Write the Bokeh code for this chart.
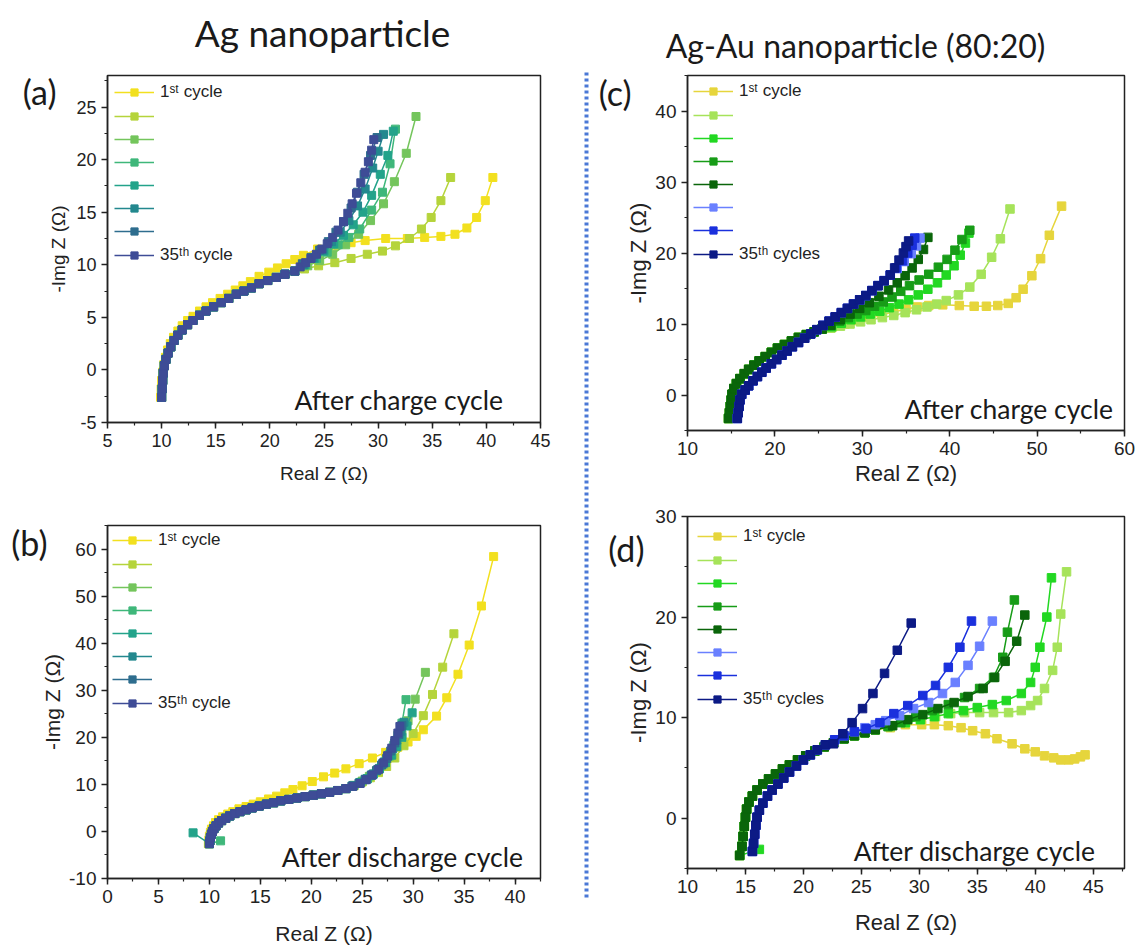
from bokeh.plotting import figure
from bokeh.layouts import row, column
from bokeh.models import (Range1d, SingleIntervalTicker, Legend, LegendItem, Label,
                          LinearAxis, FixedTicker, PrintfTickFormatter)
from bokeh.embed import file_html
from bokeh.resources import INLINE
from bokeh.core.properties import value

# ---------------- DATA ----------------
# Panel (a): Ag nanoparticle, after charge cycle
a_arc_x = [10.0, 10.05, 10.1, 10.15, 10.25, 10.4, 10.6, 10.85, 11.15, 11.5, 11.9, 12.4, 12.9,
           13.5, 14.1, 14.8, 15.5, 16.2, 16.9, 17.6, 18.3, 19.0, 19.8, 20.6, 21.4, 22.3]
a_arc_y = [-2.6, -1.8, -1.0, -0.3, 0.4, 1.0, 1.6, 2.2, 2.8, 3.3, 3.8, 4.3, 4.7,
           5.2, 5.6, 6.0, 6.4, 6.8, 7.2, 7.5, 7.8, 8.2, 8.5, 8.8, 9.1, 9.4]
a1_x = [9.9, 9.95, 10.0, 10.1, 10.2, 10.35, 10.55, 10.8, 11.1, 11.5, 11.9, 12.4, 12.9, 13.5,
        14.1, 14.7, 15.4, 16.1, 16.8, 17.5, 18.2, 19.0, 19.9, 20.7, 21.5, 22.3, 23.1, 24.4,
        26.0, 27.5, 28.8, 30.7, 32.7, 34.3, 35.8, 37.1, 38.2, 39.1, 39.9, 40.6]
a1_y = [-2.6, -1.8, -1.0, -0.2, 0.5, 1.2, 1.9, 2.5, 3.1, 3.7, 4.2, 4.7, 5.1, 5.6,
        6.0, 6.4, 6.8, 7.2, 7.6, 8.0, 8.4, 8.9, 9.3, 9.7, 10.1, 10.5, 10.9, 11.5,
        11.8, 12.1, 12.3, 12.5, 12.5, 12.6, 12.7, 12.9, 13.5, 14.5, 16.1, 18.3]
a2_tx = [23.2, 24.5, 26.0, 27.5, 29.0, 30.4, 31.6, 32.9, 34.0, 34.9, 35.8, 36.7]
a2_ty = [9.6, 9.9, 10.2, 10.6, 11.0, 11.3, 11.8, 12.5, 13.4, 14.5, 16.1, 18.3]
a3_tx = [23.5, 24.6, 25.8, 27.0, 28.2, 29.3, 30.5, 31.5, 32.6, 33.5]
a3_ty = [9.9, 10.4, 11.0, 11.9, 12.9, 14.2, 15.8, 17.9, 20.6, 24.1]
a4_tx = [23.3, 24.3, 25.3, 26.3, 27.3, 28.3, 29.4, 30.4, 31.1, 31.6]
a4_ty = [10.0, 10.6, 11.2, 11.9, 12.6, 13.4, 15.2, 16.9, 19.6, 22.9]
a5_tx = [23.2, 24.1, 25.0, 25.9, 26.8, 27.7, 28.6, 29.4, 30.2, 30.9, 31.4]
a5_ty = [10.0, 10.6, 11.3, 12.0, 12.8, 13.8, 15.0, 16.6, 18.6, 20.4, 22.7]
a6_tx = [23.1, 24.0, 24.9, 25.7, 26.5, 27.3, 28.1, 28.8, 29.5, 30.0, 30.5]
a6_ty = [10.0, 10.7, 11.4, 12.2, 13.1, 14.2, 15.6, 17.2, 19.2, 20.8, 22.4]
a7_tx = [23.0, 23.8, 24.6, 25.4, 26.1, 26.8, 27.5, 28.1, 28.7, 29.3, 29.9]
a7_ty = [10.1, 10.7, 11.4, 12.2, 13.1, 14.1, 15.4, 16.9, 18.6, 20.4, 22.1]
a8_tx = [22.8, 23.3, 23.8, 24.3, 24.8, 25.3, 25.8, 26.3, 26.8, 27.2, 27.6, 28.0, 28.4, 28.8,
         29.1, 29.4, 29.6]
a8_ty = [9.8, 10.2, 10.6, 11.0, 11.5, 12.0, 12.6, 13.3, 14.1, 14.9, 15.8, 16.8, 17.8, 18.8,
         19.8, 20.9, 21.9]

# Panel (b): Ag nanoparticle, after discharge cycle
b_arc_x = [10.0, 10.05, 10.1, 10.2, 10.3, 10.45, 10.65, 10.9, 11.2, 11.6, 12.0, 12.5, 13.0, 13.6,
           14.2, 14.9, 15.6, 16.3, 17.0, 17.8, 18.6, 19.4, 20.2, 21.0, 21.8, 22.6, 23.4]
b_arc_y = [-2.6, -2.0, -1.3, -0.6, 0.0, 0.6, 1.2, 1.8, 2.3, 2.8, 3.3, 3.8, 4.2, 4.6,
           5.0, 5.4, 5.8, 6.1, 6.5, 6.8, 7.1, 7.4, 7.7, 8.0, 8.3, 8.7, 9.1]
b1_x = [9.9, 9.95, 10.0, 10.1, 10.2, 10.4, 10.6, 10.9, 11.3, 11.8, 12.3, 12.9, 13.6, 14.3, 15.0,
        15.8, 16.6, 17.4, 18.2, 19.1, 20.1, 21.2, 22.3, 23.4, 24.7, 26.0, 27.3, 28.5, 29.5, 30.3,
        31.0, 32.3, 33.3, 34.4, 35.5, 36.7, 37.9]
b1_y = [-2.6, -1.8, -1.0, -0.2, 0.5, 1.2, 1.9, 2.5, 3.1, 3.7, 4.2, 4.8, 5.3, 5.8, 6.3,
        6.9, 7.5, 8.2, 8.9, 9.7, 10.6, 11.6, 12.4, 13.3, 14.4, 15.6, 16.8, 17.9, 19.0, 20.2,
        21.6, 24.5, 28.4, 33.4, 39.6, 47.9, 58.4]
b2_tx = [24.2, 25.0, 25.8, 26.6, 27.4, 28.2, 29.1, 30.0, 31.0, 31.9, 32.9, 34.0]
b2_ty = [9.7, 10.5, 11.4, 12.5, 13.8, 15.6, 18.2, 20.8, 24.6, 29.1, 34.9, 42.0]
b3_tx = [24.2, 25.0, 25.7, 26.4, 27.1, 27.7, 28.3, 28.9, 29.5, 30.2, 31.2]
b3_ty = [9.8, 10.7, 11.7, 12.9, 14.3, 16.0, 18.0, 20.5, 23.5, 28.1, 33.8]
b4_hx = [11.1]
b4_hy = [-2.0]
b4_tx = [24.1, 24.8, 25.5, 26.1, 26.7, 27.2, 27.7, 28.1, 28.5, 28.9, 29.3]
b4_ty = [9.7, 10.4, 11.2, 12.2, 13.4, 14.8, 16.4, 18.3, 20.4, 23.0, 28.0]
b5_hx = [8.4]
b5_hy = [-0.3]
b5_tx = [24.1, 24.8, 25.5, 26.1, 26.7, 27.3, 27.9, 28.4, 28.9, 29.4, 29.9]
b5_ty = [9.7, 10.4, 11.2, 12.2, 13.3, 14.6, 16.2, 18.0, 20.0, 22.4, 25.2]
b6_tx = [24.0, 24.7, 25.3, 25.9, 26.5, 27.0, 27.5, 28.0, 28.4, 28.8, 29.1]
b6_ty = [9.6, 10.3, 11.1, 12.0, 13.1, 14.4, 15.9, 17.6, 19.4, 21.3, 23.2]
b7_tx = [24.0, 24.7, 25.3, 25.9, 26.4, 26.9, 27.4, 27.8, 28.2, 28.6, 28.9]
b7_ty = [9.6, 10.2, 11.0, 11.9, 12.9, 14.1, 15.5, 17.1, 18.8, 20.6, 22.5]
b8_tx = [24.1, 24.8, 25.4, 26.0, 26.6, 27.1, 27.5, 27.9, 28.2, 28.5, 28.7]
b8_ty = [9.6, 10.2, 11.0, 12.0, 13.2, 14.6, 16.1, 17.7, 19.3, 20.9, 22.3]

# Panel (c): Ag-Au nanoparticle, after charge cycle
c_garc_x = [14.7, 14.8, 14.9, 15.0, 15.1, 15.3, 15.6, 16.0, 16.5, 17.0, 17.6, 18.2, 18.9, 19.6,
            20.3, 21.1, 21.9, 22.7, 23.6, 24.5, 25.4]
c_garc_y = [-3.3, -2.5, -1.6, -0.7, 0.1, 0.9, 1.6, 2.3, 3.0, 3.6, 4.2, 4.8, 5.4, 6.0,
            6.6, 7.1, 7.6, 8.1, 8.5, 8.9, 9.3]
c_barc_x = [15.7, 15.8, 15.9, 16.0, 16.2, 16.6, 17.0, 17.5, 18.0, 18.5, 19.0, 19.6, 20.2, 20.8,
            21.4, 22.0, 22.7, 23.4, 24.1, 24.8, 25.5, 26.2, 26.9, 27.6, 28.3, 29.0, 29.7, 30.4,
            31.1, 31.8, 32.5, 33.2]
c_barc_y = [-3.3, -2.5, -1.6, -0.7, 0.1, 0.7, 1.3, 2.0, 2.6, 3.2, 3.8, 4.4, 5.0, 5.6,
            6.2, 6.8, 7.4, 8.0, 8.6, 9.2, 9.8, 10.4, 11.0, 11.6, 12.2, 12.8, 13.4, 14.0,
            14.7, 15.4, 16.1, 16.9]
c1_tx = [26.6, 28.0, 29.4, 30.8, 32.2, 33.6, 35.0, 36.3, 37.6, 39.2, 41.1, 42.8, 44.2, 45.5,
         46.7, 47.6, 48.4, 49.4, 50.4, 51.4, 52.8]
c1_ty = [9.6, 10.0, 10.5, 10.9, 11.3, 11.7, 12.1, 12.4, 12.6, 12.7, 12.6, 12.5, 12.5, 12.6,
         12.9, 13.7, 14.9, 16.8, 19.2, 22.5, 26.6]
c2_tx = [26.4, 27.5, 28.6, 29.8, 31.0, 32.3, 33.6, 34.9, 36.2, 37.4, 38.5, 39.6, 41.0, 42.3,
         43.6, 44.8, 45.8, 46.9]
c2_ty = [9.4, 9.7, 10.0, 10.3, 10.6, 10.9, 11.2, 11.6, 12.0, 12.4, 12.8, 13.3, 14.1, 15.2,
         17.0, 19.4, 22.0, 26.2]
c3_tx = [26.5, 27.6, 28.7, 29.8, 30.9, 32.0, 33.1, 34.2, 35.3, 36.4, 37.5, 38.6, 39.6, 40.5,
         41.2, 41.8, 42.2]
c3_ty = [9.6, 10.1, 10.6, 11.0, 11.4, 11.8, 12.3, 12.8, 13.4, 14.1, 14.9, 15.8, 16.9, 18.2,
         19.7, 21.4, 22.8]
c4_tx = [26.4, 27.4, 28.4, 29.4, 30.4, 31.4, 32.4, 33.4, 34.4, 35.4, 36.5, 37.6, 38.7, 39.7,
         40.6, 41.4, 42.3]
c4_ty = [9.8, 10.4, 10.9, 11.4, 11.9, 12.5, 13.1, 13.8, 14.6, 15.4, 16.2, 17.0, 18.0, 19.1,
         20.4, 21.9, 23.2]
c5_tx = [26.4, 27.5, 28.6, 29.7, 30.8, 31.9, 33.0, 34.0, 34.9, 35.7, 36.4, 37.0, 37.5]
c5_ty = [9.8, 10.6, 11.4, 12.2, 13.0, 13.9, 14.8, 15.8, 16.8, 17.9, 19.1, 20.5, 22.2]
c6_tx = [34.0, 34.8, 35.6, 36.2, 36.6]
c6_ty = [17.8, 18.8, 19.9, 21.0, 22.1]
c7_tx = [33.9, 34.6, 35.2, 35.7, 36.0]
c7_ty = [17.9, 18.9, 20.0, 21.1, 22.1]
c8_tx = [33.7, 34.2, 34.7, 35.0, 35.3]
c8_ty = [17.9, 19.0, 20.0, 20.9, 21.7]

# Panel (d): Ag-Au nanoparticle, after discharge cycle
d_garc_x = [14.5, 14.7, 14.8, 14.9, 15.0, 15.1, 15.3, 15.6, 16.0, 16.5, 17.0, 17.6, 18.2, 18.8,
            19.5, 20.2, 21.0, 21.8, 22.6, 23.5, 24.4, 25.3, 26.2]
d_garc_y = [-3.7, -2.8, -1.8, -0.8, 0.1, 0.9, 1.6, 2.2, 2.8, 3.4, 3.9, 4.4, 4.9, 5.3,
            5.8, 6.2, 6.7, 7.1, 7.5, 7.9, 8.2, 8.5, 8.8]
d_barc_x = [15.6, 15.7, 15.8, 15.9, 16.0, 16.2, 16.5, 16.9, 17.3, 17.8, 18.3, 18.8, 19.4, 20.0,
            20.6, 21.2, 21.9]
d_barc_y = [-3.3, -2.5, -1.6, -0.7, 0.1, 0.8, 1.5, 2.2, 2.8, 3.4, 4.0, 4.6, 5.2, 5.8,
            6.3, 6.8, 7.3]
d1_tx = [27.5, 28.8, 30.2, 31.3, 32.5, 33.6, 34.6, 35.7, 36.7, 38.0, 39.1, 40.0, 40.8, 41.6,
         42.2, 42.9, 43.4, 43.9, 44.3]
d1_ty = [9.0, 9.3, 9.3, 9.3, 9.2, 9.0, 8.7, 8.4, 7.9, 7.4, 6.9, 6.6, 6.2, 6.0,
         5.8, 5.8, 5.9, 6.1, 6.3]
d2_tx = [27.5, 28.8, 30.1, 31.4, 32.7, 33.9, 35.2, 36.4, 37.7, 38.8, 39.6, 40.2, 40.8, 41.5,
         41.9, 42.2, 42.7]
d2_ty = [9.1, 9.5, 9.8, 10.1, 10.4, 10.5, 10.5, 10.5, 10.5, 10.7, 11.2, 11.7, 12.9, 14.7,
         17.0, 20.3, 24.5]
d3_hx = [16.2]
d3_hy = [-3.1]
d3_tx = [27.5, 28.8, 30.1, 31.3, 32.5, 33.8, 35.0, 36.3, 37.5, 38.8, 39.6, 40.0, 40.4, 41.0, 41.4]
d3_ty = [9.2, 9.5, 9.8, 10.1, 10.4, 10.7, 11.0, 11.3, 11.7, 12.4, 13.5, 15.0, 17.0, 20.0, 23.9]
d4_tx = [27.3, 28.4, 29.7, 31.1, 32.5, 33.9, 35.2, 36.4, 37.2, 37.6, 38.2]
d4_ty = [9.1, 9.5, 10.1, 10.7, 11.3, 12.0, 12.9, 14.0, 16.0, 18.5, 21.7]
d5_tx = [27.7, 29.0, 30.3, 31.6, 33.0, 34.2, 35.5, 36.5, 37.4, 38.4, 39.1]
d5_ty = [9.2, 9.8, 10.3, 10.9, 11.5, 12.1, 12.9, 14.0, 15.6, 17.6, 20.2]
d6_tx = [22.7, 23.5, 24.4, 25.3, 26.2, 27.1, 28.3, 29.5, 30.8, 32.0, 33.1, 34.2, 35.2, 36.3]
d6_ty = [7.8, 8.2, 8.6, 9.0, 9.3, 9.7, 10.2, 10.9, 11.5, 12.4, 13.5, 15.2, 17.1, 19.6]
d7_tx = [22.7, 23.5, 24.4, 25.4, 26.6, 27.8, 29.0, 30.3, 31.4, 32.5, 33.5, 34.5]
d7_ty = [7.8, 8.2, 8.6, 8.9, 9.5, 10.4, 11.2, 12.2, 13.2, 15.0, 17.0, 19.6]
d8_tx = [22.6, 23.4, 24.2, 25.1, 26.0, 27.0, 28.1, 29.3]
d8_ty = [7.4, 8.4, 9.5, 10.9, 12.4, 14.4, 16.7, 19.4]

ag_colors = ["#f2e01f", "#b5d43b", "#74c55c", "#3fb77a", "#23a38a", "#23888e", "#2e6d8e", "#3e4c96"]
agau_colors = ["#e6d53c", "#a6e35a", "#22d822", "#179c17", "#0a650a", "#6a80ff", "#1a30dd", "#0c1a85"]
labels_ab = ["1ˢᵗ cycle", " ", " ", " ", " ", " ", " ", "35ᵗʰ cycle"]
labels_cd = ["1ˢᵗ cycle", " ", " ", " ", " ", " ", " ", "35ᵗʰ cycles"]
headers = ["Ag nanoparticle", "Ag-Au nanoparticle (80:20)"]

a_series = [(a1_x, a1_y),
            (a_arc_x + a2_tx, a_arc_y + a2_ty),
            (a_arc_x + a3_tx, a_arc_y + a3_ty),
            (a_arc_x + a4_tx, a_arc_y + a4_ty),
            (a_arc_x + a5_tx, a_arc_y + a5_ty),
            (a_arc_x + a6_tx, a_arc_y + a6_ty),
            (a_arc_x + a7_tx, a_arc_y + a7_ty),
            (a_arc_x + a8_tx, a_arc_y + a8_ty)]
b_series = [(b1_x, b1_y),
            (b_arc_x + b2_tx, b_arc_y + b2_ty),
            (b_arc_x + b3_tx, b_arc_y + b3_ty),
            (b4_hx + b_arc_x + b4_tx, b4_hy + b_arc_y + b4_ty),
            (b5_hx + b_arc_x + b5_tx, b5_hy + b_arc_y + b5_ty),
            (b_arc_x + b6_tx, b_arc_y + b6_ty),
            (b_arc_x + b7_tx, b_arc_y + b7_ty),
            (b_arc_x + b8_tx, b_arc_y + b8_ty)]
c_series = [(c_garc_x + c1_tx, c_garc_y + c1_ty),
            (c_garc_x + c2_tx, c_garc_y + c2_ty),
            (c_garc_x + c3_tx, c_garc_y + c3_ty),
            (c_garc_x + c4_tx, c_garc_y + c4_ty),
            (c_garc_x + c5_tx, c_garc_y + c5_ty),
            (c_barc_x + c6_tx, c_barc_y + c6_ty),
            (c_barc_x + c7_tx, c_barc_y + c7_ty),
            (c_barc_x + c8_tx, c_barc_y + c8_ty)]
d_series = [(d_garc_x + d1_tx, d_garc_y + d1_ty),
            (d_garc_x + d2_tx, d_garc_y + d2_ty),
            (d3_hx + d_garc_x + d3_tx, d3_hy + d_garc_y + d3_ty),
            (d_garc_x + d4_tx, d_garc_y + d4_ty),
            (d_garc_x + d5_tx, d_garc_y + d5_ty),
            (d_barc_x + d6_tx, d_barc_y + d6_ty),
            (d_barc_x + d7_tx, d_barc_y + d7_ty),
            (d_barc_x + d8_tx, d_barc_y + d8_ty)]

# ---------------- STYLE / LAYOUT ----------------
AX = "#222222"
TICK_FONT = "Liberation Sans"
TEXT_FONT = "Lato"
HDR_H = 66


def make_panel(series, colors, labels, xr, yr, xint, yint, w, h, bl, br, bt, bb,
               tick_fs, lab_fs, msize, leg_pad, note, note_xy, tag, tag_y, tag_standoff,
               xlab_standoff, ylab_standoff):
    p = figure(width=w, height=h, x_range=Range1d(*xr), y_range=Range1d(*yr),
               output_backend="svg", toolbar_location=None,
               min_border_left=bl, min_border_right=br, min_border_top=bt, min_border_bottom=bb)
    p.xgrid.visible = False
    p.ygrid.visible = False
    p.outline_line_color = AX
    p.outline_line_width = 1.5
    p.xaxis.ticker = SingleIntervalTicker(interval=xint, num_minor_ticks=2)
    p.yaxis.ticker = SingleIntervalTicker(interval=yint, num_minor_ticks=2)
    for ax in (p.xaxis[0], p.yaxis[0]):
        ax.formatter = PrintfTickFormatter(format="%d")
        ax.axis_line_color = AX
        ax.axis_line_width = 1.5
        ax.major_tick_line_color = AX
        ax.minor_tick_line_color = AX
        ax.major_tick_line_width = 1.5
        ax.minor_tick_line_width = 1.2
        ax.major_tick_in = 0
        ax.major_tick_out = 6
        ax.minor_tick_in = 0
        ax.minor_tick_out = 3
        ax.major_label_text_font = TICK_FONT
        ax.major_label_text_font_size = f"{tick_fs}px"
        ax.major_label_text_color = AX
        ax.axis_label_text_font = TICK_FONT
        ax.axis_label_text_font_size = f"{lab_fs}px"
        ax.axis_label_text_font_style = "normal"
        ax.axis_label_text_color = AX
    p.xaxis[0].axis_label_standoff = xlab_standoff
    p.yaxis[0].axis_label_standoff = ylab_standoff
    p.xaxis.axis_label = "Real Z (Ω)"
    p.yaxis.axis_label = "-Img Z (Ω)"

    # panel tag "(a)" etc. drawn as the single label of an extra, line-less left axis
    tag_axis = LinearAxis(ticker=FixedTicker(ticks=[tag_y], minor_ticks=[]),
                          major_label_overrides={tag_y: tag},
                          axis_line_color=None, major_tick_line_color=None,
                          minor_tick_line_color=None, major_tick_in=0, major_tick_out=0,
                          major_label_standoff=tag_standoff,
                          major_label_text_font=TEXT_FONT, major_label_text_font_size="34px",
                          major_label_text_color="#1a1a1a")
    p.add_layout(tag_axis, "left")

    items = []
    for (xs, ys), c, lab in zip(series, colors, labels):
        r1 = p.line(xs, ys, line_color=c, line_width=1.5)
        r2 = p.scatter(xs, ys, marker="square", size=msize, fill_color=c, line_color=c)
        items.append(LegendItem(label=lab, renderers=[r1, r2]))
    leg = Legend(items=items, location="top_left", margin=0, padding=leg_pad,
                 spacing=5, glyph_width=40, glyph_height=18, label_height=18,
                 label_standoff=6, label_text_font=TICK_FONT, label_text_font_size="17px",
                 label_text_color=AX, background_fill_alpha=0, border_line_alpha=0)
    p.add_layout(leg)

    p.add_layout(Label(x=note_xy[0], y=note_xy[1], x_units="screen", y_units="screen",
                       text=note, text_font=TEXT_FONT, text_font_size="26.5px",
                       text_color="#1a1a1a", text_align="right", text_baseline="alphabetic"))
    return p


pa = make_panel(a_series, ag_colors, labels_ab, (5, 45), (-5, 28), 5, 5,
                578, 500 - HDR_H, 107, 38, 75 - HDR_H, 78, 18, 19, 8, 7,
                "After charge cycle", (396, 23), "(a)", 27.33, -11, 13, 4)

pb = make_panel(b_series, ag_colors, labels_ab, (0, 42.5), (-10, 65), 5, 10,
                578, 447, 102, 38, 25, 69, 19, 21, 8, 5,
                "After discharge cycle", (416, 22), "(b)", 61.4, -9, 16, 2)

pc = make_panel(c_series, agau_colors, labels_cd, (10, 60), (-5, 45), 10, 10,
                543, 500 - HDR_H, 93, 9, 75 - HDR_H, 70, 19, 22, 8.5, 6,
                "After charge cycle", (426, 22), "(c)", 42.6, -8, 3, 1)

pd = make_panel(d_series, agau_colors, labels_cd, (10, 47.7), (-5, 30), 5, 10,
                543, 447, 93, 13, 16, 79, 19, 22, 8.5, 10,
                "After discharge cycle", (408, 18), "(d)", 26.8, -21, 14, 1)

# header row with the two column titles
hdr = figure(width=1137, height=HDR_H, x_range=Range1d(0, 1137), y_range=Range1d(HDR_H, 0),
             output_backend="svg", toolbar_location=None, x_axis_location=None,
             y_axis_location=None, min_border=0, min_border_left=0, min_border_right=0,
             min_border_top=0, min_border_bottom=0)
hdr.xgrid.visible = False
hdr.ygrid.visible = False
hdr.outline_line_color = None
hdr.text(x=[322], y=[32], text=headers[:1], text_font=value(TEXT_FONT),
         text_font_size="37px", text_align="center", text_baseline="middle",
         text_color="#1a1a1a")
hdr.text(x=[855], y=[45], text=headers[1:], text_font=value(TEXT_FONT),
         text_font_size="32px", text_align="center", text_baseline="middle",
         text_color="#1a1a1a")

# dotted vertical separator
mid_h = 947 - HDR_H
mid = figure(width=16, height=mid_h, x_range=Range1d(0, 1), y_range=Range1d(mid_h, 0),
             output_backend="svg", toolbar_location=None, x_axis_location=None,
             y_axis_location=None, min_border=0, min_border_left=0, min_border_right=0,
             min_border_top=0, min_border_bottom=0)
mid.xgrid.visible = False
mid.ygrid.visible = False
mid.outline_line_color = None
mid.line([0.5, 0.5], [72 - HDR_H, 897 - HDR_H], line_color="#4a78d6", line_width=4,
         line_dash="3 3")

layout = column(hdr, row(column(pa, pb), mid, column(pc, pd)))

with open("out.html", "w") as f:
    f.write(file_html(layout, INLINE))
